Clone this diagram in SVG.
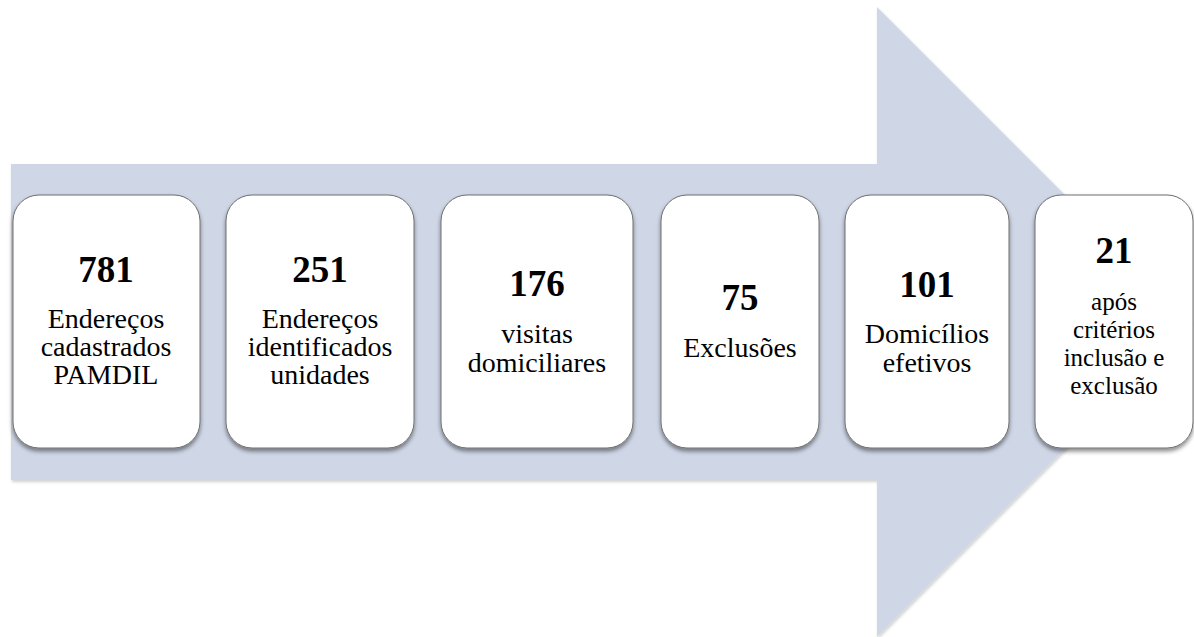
<svg xmlns="http://www.w3.org/2000/svg" width="1194" height="637" viewBox="0 0 1194 637">
<defs>
<filter id="sh" x="-10%" y="-10%" width="120%" height="125%">
<feDropShadow dx="0" dy="3" stdDeviation="2.2" flood-color="#000" flood-opacity="0.45"/>
</filter>
<filter id="ash" x="-5%" y="-5%" width="110%" height="110%">
<feDropShadow dx="1" dy="2" stdDeviation="1.5" flood-color="#000" flood-opacity="0.18"/>
</filter>
</defs>
<style>
.box{fill:#ffffff;stroke:#6e6e6e;stroke-width:1;filter:url(#sh)}
text{font-family:'Liberation Serif','Tinos','Times New Roman','Noto Serif','DejaVu Serif','FreeSerif',Times,serif;fill:#000;text-anchor:middle}
.num{font-weight:bold;font-size:37px}
.lbl{font-size:28px}
.sm{font-size:25px}
</style>
<g id="connectors">
<polygon points="11,164 877,164 877,7 1192,322 877,637 877,480 11,480" fill="#cfd7e7" filter="url(#ash)"/>
</g>
<g id="n1">
<rect class="box" x="13" y="195" width="187" height="253" rx="26"/>
<text class="num" x="106" y="282">781</text>
<text class="lbl" x="106" y="328">Endereços</text>
<text class="lbl" x="106" y="356">cadastrados</text>
<text class="lbl" x="106" y="384">PAMDIL</text>
</g>
<g id="n2">
<rect class="box" x="226" y="195" width="188" height="253" rx="26"/>
<text class="num" x="320" y="282">251</text>
<text class="lbl" x="320" y="328">Endereços</text>
<text class="lbl" x="320" y="356">identificados</text>
<text class="lbl" x="320" y="384">unidades</text>
</g>
<g id="n3">
<rect class="box" x="441" y="195" width="192" height="253" rx="26"/>
<text class="num" x="537" y="296">176</text>
<text class="lbl" x="537" y="343">visitas</text>
<text class="lbl" x="537" y="372">domiciliares</text>
</g>
<g id="n4">
<rect class="box" x="661" y="195" width="158" height="253" rx="26"/>
<text class="num" x="740" y="310">75</text>
<text class="lbl" x="740" y="357">Exclusões</text>
</g>
<g id="n5">
<rect class="box" x="845" y="195" width="164" height="253" rx="26"/>
<text class="num" x="927" y="297">101</text>
<text class="lbl" x="927" y="343">Domicílios</text>
<text class="lbl" x="927" y="372">efetivos</text>
</g>
<g id="n6">
<rect class="box" x="1035" y="195" width="158" height="253" rx="26"/>
<text class="num" x="1114" y="263">21</text>
<text class="sm" x="1114" y="310">após</text>
<text class="sm" x="1114" y="338">critérios</text>
<text class="sm" x="1114" y="366">inclusão e</text>
<text class="sm" x="1114" y="394">exclusão</text>
</g>
</svg>
